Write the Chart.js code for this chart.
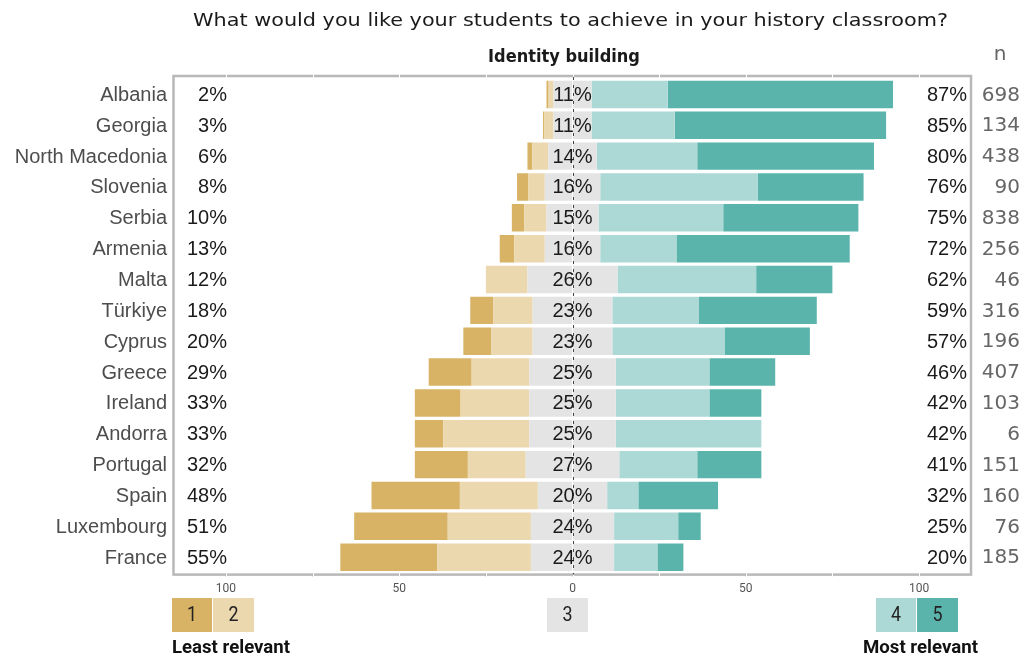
<!DOCTYPE html>
<html>
<head>
<meta charset="utf-8">
<title>Identity building</title>
<script src="https://cdn.jsdelivr.net/npm/chart.js@4.4.1/dist/chart.umd.min.js"></script>
<style>
  html, body { margin: 0; padding: 0; background: #fff; }
  #wrap { width: 1025px; height: 658px; }
</style>
</head>
<body>
<div id="wrap"><canvas id="likert" width="1025" height="658"></canvas></div>
<script>
// survey answers per country, share of respondents (%) for each point of the 1-5 scale
const countries = ['Albania', 'Georgia', 'North Macedonia', 'Slovenia', 'Serbia', 'Armenia', 'Malta', 'Türkiye',
  'Cyprus', 'Greece', 'Ireland', 'Andorra', 'Portugal', 'Spain', 'Luxembourg', 'France'];
const respondents = [698, 134, 438, 90, 838, 256, 46, 316, 196, 407, 103, 6, 151, 160, 76, 185];

const share1 = [0.6, 0.3, 1.4, 3.2, 3.6, 4.2, 0, 6.6, 8, 12.4, 13.2, 8.2, 15.3, 25.5, 27, 28];
const share2 = [1.4, 2.7, 4.6, 4.8, 6.4, 8.8, 12, 11.4, 12, 16.6, 19.8, 24.8, 16.7, 22.5, 24, 27];
const share3 = [11, 11, 14, 16, 15, 16, 26, 23, 23, 25, 25, 25, 27, 20, 24, 24];
const share4 = [22, 24, 29, 45.5, 36, 22, 40, 25, 32.5, 27, 27, 42, 22.5, 9, 18.5, 12.5];
const share5 = [65, 61, 51, 30.5, 39, 50, 22, 34, 24.5, 19, 15, 0, 18.5, 23, 6.5, 7.5];

const xTicks = [-100, -75, -50, -25, 0, 25, 50, 75, 100];
const xTickLabels = { '-100': '100', '-50': '50', '0': '0', '50': '50', '100': '100' };

const colors = ['#d8b365', '#ebd8ae', '#e4e4e4', '#acd9d5', '#5ab4ac'];

const pct = v => Math.round(v) + '%';

// neutral answers are split in two halves around zero
const datasets = [
  { label: '3', data: share3.map(v => -v / 2), backgroundColor: colors[2] },
  { label: '2', data: share2.map(v => -v), backgroundColor: colors[1] },
  { label: '1', data: share1.map(v => -v), backgroundColor: colors[0] },
  { label: '3', data: share3.map(v => v / 2), backgroundColor: colors[2] },
  { label: '4', data: share4, backgroundColor: colors[3] },
  { label: '5', data: share5, backgroundColor: colors[4] }
];

// draw text squeezed or stretched to a given width
function fitText(ctx, text, left, right, cy, font, color) {
  ctx.font = font;
  const w = ctx.measureText(text).width;
  ctx.save();
  ctx.translate(left, cy);
  ctx.scale((right - left) / w, 1);
  ctx.textAlign = 'left';
  ctx.textBaseline = 'middle';
  ctx.fillStyle = color;
  ctx.fillText(text, 0, 0);
  ctx.restore();
}

const decorations = {
  id: 'decorations',
  beforeDatasetsDraw(chart) {
    const { ctx, chartArea: a, scales: { x } } = chart;
    ctx.save();
    // panel border
    ctx.strokeStyle = '#b8b8b8';
    ctx.lineWidth = 2.5;
    ctx.strokeRect(a.left - 0.5, a.top - 3, a.right - a.left + 0.5, a.bottom - a.top + 5);
    // white grid lines cutting through the border
    ctx.strokeStyle = '#ffffff';
    ctx.lineWidth = 1;
    xTicks.forEach(v => {
      const px = Math.round(x.getPixelForValue(v)) + 0.5;
      ctx.beginPath();
      ctx.moveTo(px, a.top - 5);
      ctx.lineTo(px, a.top - 1);
      ctx.moveTo(px, a.bottom + 0.5);
      ctx.lineTo(px, a.bottom + 4);
      ctx.stroke();
    });
    ctx.restore();
  },
  afterDatasetsDraw(chart) {
    const { ctx, chartArea: a, scales: { x, y } } = chart;
    ctx.save();

    // dashed zero line
    const x0 = Math.round(x.getPixelForValue(0)) + 0.5;
    ctx.strokeStyle = '#444';
    ctx.lineWidth = 1;
    ctx.setLineDash([3, 5]);
    ctx.beginPath();
    ctx.moveTo(x0, a.top - 2);
    ctx.lineTo(x0, a.bottom + 2);
    ctx.stroke();
    ctx.setLineDash([]);

    // titles
    ctx.textBaseline = 'middle';
    fitText(ctx, 'What would you like your students to achieve in your history classroom?', 193, 948, 21,
      '18px "DejaVu Sans"', '#1a1a1a');
    ctx.fillStyle = '#1a1a1a';
    ctx.textAlign = 'center';
    ctx.font = 'bold 18px "DejaVu Sans Condensed", "DejaVu Sans"';
    ctx.fillText('Identity building', 564, 57);
    ctx.fillStyle = '#666';
    ctx.font = '20px "DejaVu Sans"';
    ctx.fillText('n', 1000, 55);

    // row labels
    countries.forEach((c, i) => {
      const py = y.getPixelForValue(i) + 1;
      ctx.font = '20px "Liberation Sans", Arial, sans-serif';
      ctx.fillStyle = '#4d4d4d';
      ctx.textAlign = 'right';
      ctx.fillText(c, a.left - 7, py);

      ctx.fillStyle = '#1a1a1a';
      ctx.fillText(pct(share1[i] + share2[i]), x.getPixelForValue(-100) + 1, py);
      ctx.fillText(pct(share4[i] + share5[i]), a.right - 4, py);
      ctx.textAlign = 'center';
      ctx.fillText(pct(share3[i]), x.getPixelForValue(0), py);

      ctx.fillStyle = '#666';
      ctx.textAlign = 'right';
      ctx.font = '20px "DejaVu Sans"';
      ctx.fillText(String(respondents[i]), a.right + 49, py);
    });

    // scale key
    const keyTop = 598, keyH = 34;
    const keys = [
      { t: '1', l: 172, r: 212, c: colors[0] },
      { t: '2', l: 213, r: 254, c: colors[1] },
      { t: '3', l: 547, r: 588, c: colors[2] },
      { t: '4', l: 876, r: 916, c: colors[3] },
      { t: '5', l: 917, r: 958, c: colors[4] }
    ];
    keys.forEach(k => {
      ctx.fillStyle = k.c;
      ctx.fillRect(k.l, keyTop, k.r - k.l, keyH);
      ctx.fillStyle = '#222';
      ctx.textAlign = 'center';
      ctx.font = '21px Roboto';
      ctx.save();
      ctx.translate((k.l + k.r) / 2, keyTop + keyH / 2 + 1);
      ctx.scale(0.85, 1);
      ctx.fillText(k.t, 0, 0);
      ctx.restore();
    });

    fitText(ctx, 'Least relevant', 172, 290, 648, 'bold 19px Roboto', '#111');
    fitText(ctx, 'Most relevant', 863, 978, 648, 'bold 19px Roboto', '#111');

    ctx.restore();
  }
};

new Chart(document.getElementById('likert'), {
  type: 'bar',
  data: { labels: countries, datasets: datasets },
  options: {
    indexAxis: 'y',
    responsive: false,
    animation: false,
    events: [],
    layout: { padding: { left: 174, right: 54, top: 79, bottom: 56 } },
    datasets: { bar: { barPercentage: 0.89, categoryPercentage: 1, borderWidth: 0 } },
    plugins: { legend: { display: false }, tooltip: { enabled: false } },
    scales: {
      x: {
        type: 'linear',
        stacked: true,
        min: -115,
        max: 115,
        afterBuildTicks: s => { s.ticks = xTicks.map(v => ({ value: v })); },
        grid: { drawOnChartArea: false, drawTicks: true, tickLength: 4, color: '#d0d0d0' },
        border: { display: false },
        ticks: {
          autoSkip: false,
          maxRotation: 0,
          padding: 5.5,
          color: '#555',
          font: { family: 'Roboto', size: 12 },
          callback: v => xTickLabels[v] ?? ''
        }
      },
      y: { stacked: true, display: false }
    }
  },
  plugins: [decorations]
});
</script>
</body>
</html>
